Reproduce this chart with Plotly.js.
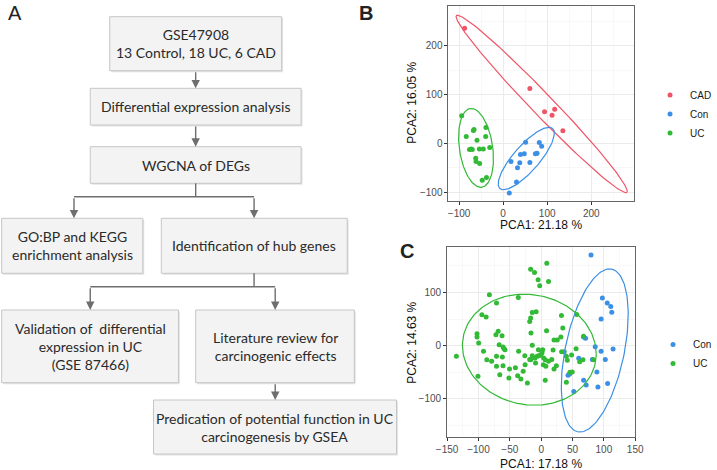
<!DOCTYPE html>
<html><head><meta charset="utf-8">
<script src="https://cdn.plot.ly/plotly-3.0.1.min.js"></script>
<style>html,body{margin:0;padding:0;background:#fff;overflow:hidden}#chart{width:717px;height:470px}</style>
</head><body><div id="chart"></div>
<script>
// ---------------- DATA ----------------
// Panel B (GSE47908)
const bGroups = ['CAD', 'Con', 'UC'];
const bCadX = [-87.4, 60.7, 94, 117, 111, 135.6];
const bCadY = [236, 112.6, 65, 70.3, 58, 26];
const bConX = [14, 30.4, 17.8, 32.6, 37.8, 39.3, 48, 51, 60.7, 73.3, 77, 82, 87.4];
const bConY = [-101, -78.5, -36.9, -49.8, -39.6, -22.5, -21, 2.7, -38.9, -21, -19.8, 2, -5.5];
const bUcX = [-94, -83.7, -66, -67.4, -76.3, -72.6, -59.3, -54, -45, -39, -39.6, -30.4, -62.2, -61.5, -53.3, -47.4, -37.8, -70];
const bUcY = [56.7, 14.3, 28.7, 26.6, -12.3, -11, 6.8, -11, -11, 32.8, 14.3, -8.2, -30, -36.9, -41, -75, -69.6, -12];
// 95% ellipses of panel B: centre, semi-axis vectors
const bCadEllipseCenter = [87.5, 81];   const bCadEllipseA = [193.5, -181]; const bCadEllipseB = [17.4, 15.8];
const bConEllipseCenter = [52.5, -30.7]; const bConEllipseA = [59.9, 61.4];  const bConEllipseB = [21.5, -17.8];
const bUcEllipseCenter = [-61.5, -8.9];  const bUcEllipseA = [-13.3, 80.5];  const bUcEllipseB = [37.3, 5.3];

// Panel C (GSE87466)
const cGroups = ['Con', 'UC'];
const cConX = [79.5, 97.6, 105.4, 111, 112.6, 95.6, 67.7, 70.8, 86.2, 114.7, 95.6, 59.9, 81.6, 102.3, 88.9, 45.4, 42.8, 67.7, 71.8, 90.5, 106, 52];
const cConY = [170.6, 89.4, 80, 73.8, 63, 50, 16.3, 13.8, -1.9, -6.3, -10.6, -23.8, -26, -26, -49.4, -53, -55.6, -65, -73.8, -77.5, -71, -86];
const cUcX = [-135.3, -82.6, -36.5, -16.8, -10.6, -4.9, -2.3, 9, 11.7, -71.2, -94.5, -87.8, -14.2, -8, -16.8, -18.3, -16.3, 8.6,
  -102.3, -102.3, -99.7, -68.6, -62.4, -72.2, -92, -67, -60.8, -59.2, -57.7, -71.2, -61.9, -79, -86.7, -100.8, -71.2, -60.8,
  -66, -50.5, -51.5, -36, -41.1, -37.5, -32.3, -28.7, -25.6, -26.1, -22, -16.8, -14.2, -10, -6.4, -3.8, -1.2, -14.2, -18.3,
  -9, -4.4, 2.4, 1.3, 3.9, 6.5, 3.4, 7.5, 11.7, 6.5, 19, 16.9, 20.5, 25.7, 31.4, 32.4, 34.5, 36.8, 32.6, 24.2, 20.5, 40.2,
  41.7, 45.9, 49.5, 40.2, 48.5, 61.4, 66.6, 56.7, 67.6, 55.7, 83.2];
const cUcY = [-20, 95.6, 90.6, 143.8, 137.5, 123.8, 112.5, 155, 120.6, 80, 58, 53.8, 62.5, 63.8, 51.9, 45.6, 23.8, 28,
  22.5, 16.3, 5, 26.9, 18.8, 20.6, -10.6, 1.9, -2.5, -5.6, -7.5, -20, -21.3, -29.4, -26.3, -57.5, -38.8, -37.5,
  -54.4, -43.8, -60.6, -10.6, -41.3, -56.3, -62.5, -48, -35.6, -18.8, -70, -26.3, 0.6, -23, -20, -18.8, -17.5, -18.8, -26,
  -32.5, -7.5, -7.5, -13.8, -23, -26.3, -35.6, -38.8, -29.4, -65, -8.1, -26, 10.6, 10.6, 16.3, 56.9, 33.1, -11.3, -11.3, -37.5, -43.8, -20,
  -27.5, -50, -49.4, -68.8, -17.5, -30, -26.3, 58.8, 17.5, -5.6, -26.3];
const cConEllipseCenter = [85.5, -9];   const cConEllipseA = [27.2, 152.8]; const cConEllipseB = [45.9, -11.9];
const cUcEllipseCenter = [-18.9, -7.5]; const cUcEllipseA = [106.7, -8];   const cUcEllipseB = [0, 104];

// Axis tick values
const bXTicks = [-100, 0, 100, 200];
const bYTicks = [-100, 0, 100, 200];
const cXTicks = [-150, -100, -50, 0, 50, 100, 150];
const cYTicks = [-100, 0, 100];

// Axis titles
const bXTitle = 'PCA1: 21.18 %', bYTitle = 'PCA2: 16.05 %';
const cXTitle = 'PCA1: 17.18 %', cYTitle = 'PCA2: 14.63 %';

// Flowchart (panel A) texts
const flowTexts = [
  'GSE47908<br>13 Control, 18 UC, 6 CAD',
  'Differential expression analysis',
  'WGCNA of DEGs',
  'GO:BP and KEGG<br>enrichment analysis',
  'Identification of hub genes',
  'Validation of \u00A0differential<br>expression in UC<br>(GSE 87466)',
  'Literature review for<br>carcinogenic effects',
  'Predication of potential function in UC<br>carcinogenesis by GSEA'
];

// ---------------- LAYOUT HELPERS ----------------
const W = 717, H = 470;
const px = v => v / W;
const py = v => 1 - v / H;
const COL = {CAD: '#EF5566', Con: '#3C8FE6', UC: '#32B936'};
const FONT = 'Liberation Sans, Arial, sans-serif';
const FLOWFONT = 'Lato, Open Sans, sans-serif';

function ellipse(c, a, b) {
  const xs = [], ys = [];
  for (let i = 0; i <= 160; i++) {
    const t = 2 * Math.PI * i / 160;
    xs.push(c[0] + a[0] * Math.cos(t) + b[0] * Math.sin(t));
    ys.push(c[1] + a[1] * Math.cos(t) + b[1] * Math.sin(t));
  }
  return {xs, ys};
}

const traces = [];
function pts(x, y, name, color, xa, ya, leg) {
  traces.push({type: 'scatter', mode: 'markers', x, y, name, xaxis: xa, yaxis: ya, legend: leg,
    marker: {color, size: 5}, showlegend: true, hoverinfo: 'skip'});
}
function ell(c, a, b, color, xa, ya) {
  const e = ellipse(c, a, b);
  traces.push({type: 'scatter', mode: 'lines', x: e.xs, y: e.ys, xaxis: xa, yaxis: ya,
    line: {color, width: 1.2}, showlegend: false, hoverinfo: 'skip'});
}

pts(bCadX, bCadY, bGroups[0], COL.CAD, 'x', 'y', 'legend');
pts(bConX, bConY, bGroups[1], COL.Con, 'x', 'y', 'legend');
pts(bUcX, bUcY, bGroups[2], COL.UC, 'x', 'y', 'legend');
ell(bCadEllipseCenter, bCadEllipseA, bCadEllipseB, COL.CAD, 'x', 'y');
ell(bConEllipseCenter, bConEllipseA, bConEllipseB, COL.Con, 'x', 'y');
ell(bUcEllipseCenter, bUcEllipseA, bUcEllipseB, COL.UC, 'x', 'y');

pts(cConX, cConY, cGroups[0], COL.Con, 'x2', 'y2', 'legend2');
pts(cUcX, cUcY, cGroups[1], COL.UC, 'x2', 'y2', 'legend2');
ell(cConEllipseCenter, cConEllipseA, cConEllipseB, COL.Con, 'x2', 'y2');
ell(cUcEllipseCenter, cUcEllipseA, cUcEllipseB, COL.UC, 'x2', 'y2');

function axis(domain, range, tickvals, dtick, minor, anchor) {
  return {domain, range, anchor, tickmode: 'linear', tick0: 0, dtick,
    showgrid: true, gridcolor: '#ebebeb', gridwidth: 1,
    minor: {dtick: minor, tick0: 0, showgrid: true, gridcolor: '#f4f4f4', gridwidth: 0.6, ticks: ''},
    zeroline: false, showline: true, mirror: true, linecolor: '#666666', linewidth: 1,
    ticks: 'outside', ticklen: 3, tickcolor: '#333', tickwidth: 1,
    tickfont: {family: FONT, size: 10, color: '#4d4d4d'}, fixedrange: true};
}

const layout = {
  width: W, height: H, margin: {l: 0, r: 0, t: 0, b: 0},
  paper_bgcolor: '#fff', plot_bgcolor: '#fff',
  xaxis: axis([px(460.7), px(651.7)], [-124, 298], bXTicks, 100, 50, 'y'),
  yaxis: axis([py(200.7), py(5.7)], [-117, 282], bYTicks, 100, 50, 'x'),
  xaxis2: axis([px(459.3), px(652.5)], [-150, 150], cXTicks, 50, 25, 'y2'),
  yaxis2: axis([py(437), py(246.7)], [-171.6, 186], cYTicks, 100, 50, 'x2'),
  legend: {x: px(668), y: py(80.5), xanchor: 'left', yanchor: 'top', bgcolor: 'rgba(0,0,0,0)',
    font: {family: FONT, size: 10, color: '#1a1a1a'}, itemwidth: 30, tracegroupgap: 0},
  legend2: {x: px(671), y: py(330), xanchor: 'left', yanchor: 'top', bgcolor: 'rgba(0,0,0,0)',
    font: {family: FONT, size: 10, color: '#1a1a1a'}, itemwidth: 30, tracegroupgap: 0},
  shapes: [], annotations: []
};

// axis titles
function title(text, x, y, angle) {
  layout.annotations.push({text, x: px(x), y: py(y), xref: 'paper', yref: 'paper', showarrow: false,
    xanchor: 'center', yanchor: 'middle', textangle: angle || 0,
    font: {family: FONT, size: 12, color: '#111'}});
}
title(bXTitle, 556, 225);
title(bYTitle, 423, 103, -90);
title(cXTitle, 556, 463.5);
title(cYTitle, 423, 343, -90);

// panel letters
function letter(t, x, y, bold) {
  layout.annotations.push({text: bold ? '<b>' + t + '</b>' : t, x: px(x), y: py(y), xref: 'paper', yref: 'paper',
    showarrow: false, xanchor: 'center', yanchor: 'middle', font: {family: FONT, size: 20, color: '#222'}});
}
letter('A', 15, 13, false);
letter('B', 376, 13, true);
letter('C', 418, 251, true);

// flowchart boxes [x0, x1, y0, y1] in pixels
const boxes = [
  [112.7, 289.3, 16.7, 70.7],
  [92.7, 309.3, 88.3, 125],
  [92.7, 309.3, 146.7, 183.3],
  [1.7, 146.7, 218.3, 273.3],
  [165.7, 356.7, 218.3, 273.3],
  [1.7, 183.3, 310, 382.7],
  [201, 364, 310, 382.7],
  [157.7, 407.3, 400, 454]
];
boxes.forEach((b, i) => {
  layout.shapes.push({type: 'rect', xref: 'paper', yref: 'paper', x0: px(b[0] + 1.5), x1: px(b[1] + 1.5),
    y0: py(b[2] + 1.5), y1: py(b[3] + 1.5), fillcolor: '#e4e4e4', line: {width: 0}, layer: 'below'});
  layout.shapes.push({type: 'rect', xref: 'paper', yref: 'paper', x0: px(b[0]), x1: px(b[1]),
    y0: py(b[2]), y1: py(b[3]), fillcolor: '#f3f3f3', line: {color: '#c6c6c6', width: 1}, layer: 'below'});
  layout.annotations.push({text: flowTexts[i], x: px((b[0] + b[1]) / 2), y: py((b[2] + b[3]) / 2),
    xref: 'paper', yref: 'paper', showarrow: false, xanchor: 'center', yanchor: 'middle', align: 'center',
    font: {family: FLOWFONT, size: 14, color: '#2a2a2a'}});
});

const ARROW = '#6e6e6e';
function seg(x0, y0, x1, y1) {
  layout.shapes.push({type: 'line', xref: 'paper', yref: 'paper', x0: px(x0), y0: py(y0), x1: px(x1), y1: py(y1),
    line: {color: ARROW, width: 1.4}});
}
function arrow(x, y0, y1) {
  layout.annotations.push({text: '', x: px(x), y: py(y1), xref: 'paper', yref: 'paper', showarrow: true,
    ax: 0, ay: -(y1 - y0), arrowhead: 2, arrowsize: 1.2, arrowwidth: 1.4, arrowcolor: ARROW, standoff: 0});
}
arrow(201, 70.7, 88.3);
arrow(201, 125, 146.7);
seg(201, 183.3, 201, 196.7);
seg(76, 196.7, 261, 196.7);
arrow(76, 196.7, 218.3);
arrow(261, 196.7, 218.3);
seg(261, 273.3, 261, 286.7);
seg(92.7, 286.7, 282.7, 286.7);
arrow(92.7, 286.7, 310);
arrow(282.7, 286.7, 310);
arrow(282.7, 382.7, 400);

Plotly.newPlot('chart', traces, layout, {staticPlot: true, displayModeBar: false});
</script></body></html>
